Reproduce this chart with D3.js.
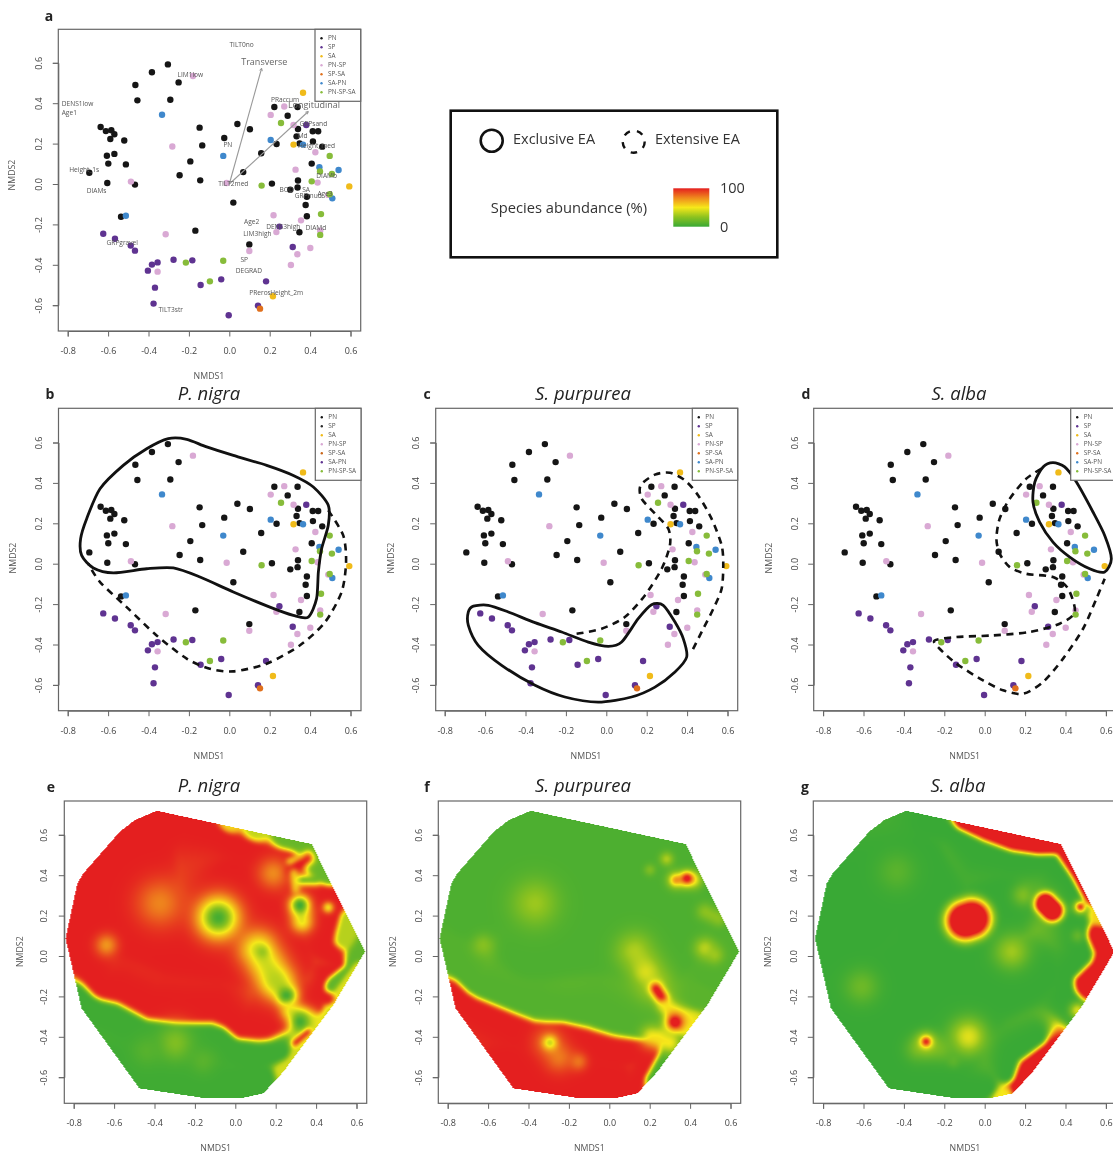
<!DOCTYPE html>
<html><head><meta charset="utf-8">
<script src="https://cdn.jsdelivr.net/npm/d3@7"></script>
<style>html,body{margin:0;padding:0;background:#fff;overflow:hidden}svg{display:block;filter:blur(0.45px)}text{font-family:"Open Sans",sans-serif}</style>
</head><body><svg id="c" width="1113" height="1156"></svg>
<script>
// ---- sample points (NMDS1, NMDS2) ----
const groupNames = ["PN","SP","SA","PN-SP","SP-SA","SA-PN","PN-SP-SA"];
const groupColors = ["#151515","#5f3391","#f0bb1a","#d9a9d4","#e0701c","#3f88cc","#87bc3a"];
const PN = [[-.304,.592],[-.383,.553],[-.251,.503],[-.465,.49],[-.455,.414],[-.292,.417],[-.637,.282],[-.611,.262],[-.584,.266],[-.569,.246],[-.589,.223],[-.52,.215],[-.606,.14],[-.569,.149],[-.599,.101],[-.512,.097],[-.693,.056],[-.604,.005],[-.467,-.003],[-.536,-.162],[-.168,-.231],[-.147,.279],[-.134,.191],[-.193,.112],[-.246,.043],[-.144,.018],[-.025,.228],[.04,.297],[.102,.271],[.158,.152],[.069,.059],[.02,-.092],[.099,-.299],[.211,.002],[.234,.198],[.223,.381],[.289,.338],[.338,.381],[.34,.272],[.333,.236],[.348,.201],[.413,.261],[.44,.261],[.414,.211],[.46,.185],[.408,.101],[.34,.017],[.338,-.017],[.302,-.028],[.384,-.063],[.378,-.104],[.384,-.16],[.347,-.239]];
const SP = [[-.624,-.246],[-.566,-.271],[-.488,-.305],[-.467,-.33],[-.355,-.388],[-.383,-.399],[-.403,-.429],[-.368,-.513],[-.375,-.592],[-.276,-.375],[-.183,-.378],[-.142,-.5],[-.04,-.472],[-.003,-.65],[.142,-.602],[.182,-.482],[.248,-.211],[.314,-.312],[.381,.292]];
const SA = [[.365,.452],[.318,.195],[.594,-.012],[.216,-.556]];
const PN_SP = [[.272,.384],[.205,.342],[.318,.292],[-.282,.186],[-.18,.535],[-.487,.012],[.328,.071],[.426,.157],[.437,.007],[-.013,.005],[-.315,-.249],[-.355,-.434],[.219,-.155],[.233,-.238],[.355,-.18],[.099,-.332],[.401,-.317],[.337,-.348],[.305,-.401],[.49,-.054],[.45,-.231]];
const SP_SA = [[.152,-.617]];
const SA_PN = [[-.333,.343],[-.03,.139],[.205,.218],[.365,.195],[.446,.083],[.541,.069],[.51,-.071],[-.512,-.157]];
const PN_SP_SA = [[.256,.302],[.497,.139],[.508,.05],[.449,.062],[.408,.013],[.16,-.008],[.497,-.051],[.454,-.149],[.45,-.252],[-.03,-.38],[-.215,-.389],[-.096,-.482]];
const groups = [PN,SP,SA,PN_SP,SP_SA,SA_PN,PN_SP_SA];

// ---- labels of the biplot (panel a) ----
const biplotLabels = ["TILT0no","LIM1low","PRaccum","DENS1low","Age1","GRPsand","PN","Height_1s","TILT2med","DIAMs","DIAMb","BOD","SA","Age3","GRPmud","Height_med","Md","Age2","LIM3high","DENS3high","DIAMd","GRPgravel","SP","DEGRAD","PReros","Height_2m","TILT3str"];
const biplotLabelX = [.061,-.193,.276,-.751,-.792,.416,-.007,-.718,.02,-.657,.482,.284,.38,.474,.391,.432,.363,.111,.139,.267,.429,-.53,.074,.097,.152,.284,-.29];
const biplotLabelY = [.688,.538,.417,.394,.351,.297,.193,.069,-.002,-.038,.036,-.03,-.033,-.05,-.059,.185,.234,-.19,-.248,-.213,-.221,-.295,-.375,-.431,-.541,-.541,-.625];
const vectorNames = ["Transverse","Longitudinal"];
const vectorEnds = [[.16,.573],[.391,.359]];
const vectorLabelPos = [[.173,.601],[.419,.388]];

// ---- EA outlines drawn on panels b, c, d ----
const exclusiveB = [[-.302,.619],[-.211,.616],[-.112,.578],[.02,.536],[.185,.487],[.317,.437],[.416,.38],[.49,.289],[.49,.19],[.457,.074],[.441,-.041],[.432,-.173],[.391,-.264],[.317,-.256],[.201,-.215],[.02,-.14],[-.145,-.066],[-.277,-.021],[-.409,-.025],[-.574,-.045],[-.673,-.021],[-.731,.041],[-.736,.124],[-.706,.223],[-.64,.371],[-.525,.487],[-.409,.569]];
const extensiveB = [[.49,.264],[.564,.14],[.578,.008],[.556,-.14],[.474,-.289],[.35,-.404],[.185,-.495],[.02,-.533],[-.096,-.52],[-.211,-.47],[-.36,-.355],[-.508,-.215],[-.64,-.091],[-.698,0]];
const exclusiveC = [[-.658,-.21],[-.584,-.206],[-.485,-.239],[-.353,-.292],[-.221,-.338],[-.089,-.388],[.01,-.409],[.076,-.388],[.158,-.272],[.224,-.203],[.282,-.206],[.34,-.289],[.381,-.371],[.398,-.462],[.34,-.536],[.241,-.611],[.125,-.66],[-.04,-.685],[-.205,-.66],[-.353,-.602],[-.518,-.503],[-.634,-.404],[-.683,-.305],[-.683,-.239]];
const extensiveC = [[-.147,-.347],[-.023,-.322],[.092,-.264],[.191,-.157],[.274,-.025],[.315,.091],[.307,.173],[.241,.248],[.175,.322],[.17,.388],[.241,.441],[.315,.45],[.389,.413],[.455,.338],[.521,.223],[.571,.091],[.579,-.008],[.571,-.124],[.53,-.223],[.48,-.322],[.422,-.437]];
const exclusiveD = [[.338,.5],[.396,.479],[.454,.404],[.536,.256],[.594,.14],[.627,.025],[.594,-.041],[.52,-.025],[.421,.033],[.338,.107],[.272,.206],[.239,.305],[.248,.404],[.289,.479]];
const extensiveD = [[.281,.47],[.206,.421],[.124,.322],[.074,.223],[.058,.124],[.074,.05],[.124,-.017],[.206,-.05],[.338,-.066],[.413,-.124],[.446,-.239],[.371,-.297],[.223,-.338],[.041,-.355],[-.14,-.363],[-.248,-.38],[-.223,-.421],[-.14,-.495],[-.008,-.578],[.091,-.627],[.19,-.644],[.289,-.586],[.388,-.47],[.487,-.322],[.553,-.173],[.594,-.074]];

const hull = [[-.389,.719],[-.497,.673],[-.571,.616],[-.752,.409],[-.782,.36],[-.84,.087],[-.761,-.259],[-.475,-.655],[-.142,-.705],[.023,-.705],[.139,-.68],[.238,-.573],[.485,-.243],[.642,.021],[.378,.554]];
// contour-like traces: abundance value, then x,y pairs
const tracesE = [
 [100,-.827,.054,-.67,-.16,-.571,-.177,-.422,-.251,-.274,-.267,-.092,-.267,.023,-.358,.139,-.35,.254,-.243],
 [2,-.782,-.193,-.686,-.267,-.596,-.292,-.455,-.375,-.307,-.399,-.076,-.399,-.01,-.457,.106,-.49,.238,-.482],
 [2,-.6,-.55,-.3,-.62,0,-.65,.15,-.6],
 [100,-.6,.4,-.389,.68,-.241,.695,-.12,.62,-.01,.56,.155,.49,.254,.47],
 [100,-.7,.2,-.3,.05,0,0,0,.4,.2,.1,.25,.05,.3,-.05],
 [55,-.03,.65],[38,.1,.622],
 [14,.25,.585,.378,.55,.46,.40],
 [100,.345,.327,.485,.294,.502,.236,.46,.129,.444,.054,.526,-.045,.444,-.094,.411,-.177,.469,-.226],
 [100,.35,-.2,.41,-.26],
 [35,.551,.186,.535,.087],
 [12,.634,.03,.469,-.144],
 [42,.238,-.573,.36,-.41,.485,-.243],
 [45,.6,-.05,.52,-.19]
];
// soft spots: x1,y1,x2,y2,radius,value
const spotsE = [
 [-.373,.261,-.373,.261,.11,76],[-.637,.054,-.637,.054,.05,70],[-.084,.19,-.084,.19,.095,2],
 [.114,.03,.2,-.12,.09,40],[.2,-.12,.254,-.19,.05,35],[.135,.02,.135,.02,.03,25],[.254,-.2,.254,-.2,.038,-5],
 [.188,.409,.188,.409,.07,74],[.32,.25,.33,.17,.05,45],[.32,.252,.32,.252,.036,-5],
 [.27,.467,.361,.508,.015,45],[.279,.418,.361,.483,.028,104],[.29,.41,.3,.33,.02,55],[.33,.376,.4,.376,.024,12],
 [.27,-.27,.41,-.33,.045,50],[.32,-.325,.32,-.325,.05,0],[.295,-.432,.361,-.375,.015,110],[.46,.24,.46,.24,.022,35],
 [-.298,-.43,-.298,-.43,.08,22],[-.16,-.52,-.16,-.52,.06,10],[-.44,-.47,-.44,-.47,.07,9]
];
const tracesF = [
 [100,-.777,-.168,-.682,-.251,-.5,-.333,-.384,-.391,-.236,-.383,-.104,-.432,.028,-.465,.201,-.482,.168,-.573,.111,-.68],
 [8,-.81,.005,-.673,-.144,-.45,-.226,-.302,-.267,-.087,-.284,.028,-.325,.16,-.35],
 [100,-.5,-.55,-.2,-.62,.05,-.62],
 [6,-.7,.2,-.3,.6,.2,.5,.5,.2,.3,0,0,.1,-.4,0],[6,-.5,.3,-.1,.3],[6,.2,.2,.4,.3],
 [6,.21,-.606,.325,-.457],[45,.41,-.34],[8,.5,-.1,.62,.02],[10,.45,-.2]
];
const spotsF = [
 [-.368,.261,-.368,.261,.11,29],[-.624,.054,-.624,.054,.05,24],[.127,.021,.22,-.13,.09,34],[.18,-.08,.18,-.08,.045,44],
 [.24,-.18,.33,-.3,.03,50],[.23,-.16,.26,-.205,.028,112],[.21,-.4,.3,-.43,.05,52],[.27,-.25,.41,-.33,.03,50],[.325,-.328,.325,-.328,.042,118],
 [.33,.376,.416,.376,.04,50],[.33,.376,.33,.376,.022,82],[.385,.385,.385,.385,.028,120],[.284,.48,.284,.48,.03,38],[.201,.426,.201,.426,.025,25],
 [.474,.219,.54,.186,.04,26],[.474,.038,.474,.038,.05,38],[.523,.005,.523,.005,.04,30],
 [-.3,-.43,-.25,-.5,.07,78],[-.294,-.429,-.294,-.429,.03,32],[-.153,-.523,-.153,-.523,.04,78]
];
const tracesG = [
 [105,-.114,.657,.002,.624,.134,.566,.266,.533,.381,.541,.439,.434,.513,.285],
 [0,-.262,.665,-.163,.616,-.031,.525,.134,.475,.332,.467,.414,.368,.48,.252],
 [105,.546,.104,.604,.021,.563,-.061,.48,-.135,.505,-.168],
 [0,.464,.17,.472,.087,.488,-.003,.406,-.094,.406,-.193,.464,-.26],
 [55,.563,.203],
 [105,.332,-.449,.2,-.564,.142,-.672],
 [0,.266,-.408,.134,-.49,.117,-.589],
 [50,.075,-.695,.125,-.68],[0,-.15,-.69,.02,-.66],
 [0,-.7,.2,-.3,.5,-.2,0,.1,.3,-.5,-.3,-.2,-.6,0,-.2,.3,-.1]
];
const spotsG = [
 [-.095,.175,-.065,.185,.1,135,4],[.3,.26,.335,.225,.056,135,4],[.474,.243,.474,.243,.03,55],[.474,.243,.474,.243,.017,130],
 [.191,.302,.191,.302,.05,22],[.134,.021,.134,.021,.08,30],[-.609,-.152,-.609,-.152,.08,16],[-.436,.417,-.436,.417,.09,10],
 [-.081,-.4,-.081,-.4,.085,46],[-.33,-.46,-.22,-.46,.06,18],[-.29,-.424,-.29,-.424,.045,50],[-.29,-.424,-.29,-.424,.02,125],[-.155,-.52,-.155,-.52,.03,12],
 [.46,-.27,.46,-.27,.035,50],[.46,.1,.46,.1,.03,15]
];

const scatterTicks = [-.8,-.6,-.4,-.2,0,.2,.4,.6];
const yTicks = [-.6,-.4,-.2,0,.2,.4,.6];
const legendStops = [0,25,50,75,100];
const legendColors = ["#39a935","#8cc21f","#f6e81a","#ef8a1d","#e41f1f"];

const K = 202;
const svg = d3.select("#c");
const color = d3.scaleLinear().domain(legendStops).range(legendColors).clamp(true);
const GRAY = "#555";

function frame(p){
  const x = d3.scaleLinear().domain([-.8,.6]).range([p.zx-.8*K,p.zx+.6*K]);
  const y = d3.scaleLinear().domain([-.6,.6]).range([p.zy+.6*K,p.zy-.6*K]);
  return {x,y,g:svg.append("g")};
}
function axes(p,f){
  const [l,r,t,b]=p.box, g=f.g;
  g.append("rect").attr("x",l).attr("y",t).attr("width",r-l).attr("height",b-t).attr("fill","none").attr("stroke","#666").attr("stroke-width",1.2);
  const xa=g.append("g").attr("transform",`translate(0,${b})`).call(d3.axisBottom(f.x).tickValues(scatterTicks).tickFormat(d3.format(".1f")).tickSize(5.5).tickPadding(11));
  const ya=g.append("g").attr("transform",`translate(${l},0)`).call(d3.axisLeft(f.y).tickValues(yTicks).tickFormat(d3.format(".1f")).tickSize(5.5));
  xa.select(".domain").attr("stroke","#666"); ya.select(".domain").attr("stroke","#666");
  xa.selectAll("line").attr("stroke","#666"); ya.selectAll("line").attr("stroke","#666");
  xa.selectAll("text").attr("fill","#444").attr("font-size",9).attr("font-family",'"Open Sans"').text(d=>d3.format(".1f")(d).replace("−","-"));
  ya.selectAll("text").attr("fill","#444").attr("font-size",9).attr("font-family",'"Open Sans"').text(d=>d3.format(".1f")(d).replace("−","-"))
    .attr("text-anchor","middle").attr("x",0).attr("y",0).attr("dy",null).attr("dominant-baseline","middle")
    .attr("transform",`translate(${p.ytx-l},0) rotate(-90)`);
  g.append("text").attr("x",p.nx).attr("y",p.ny).attr("text-anchor","middle").attr("dominant-baseline","middle").attr("font-size",8.8).attr("fill",GRAY).text("NMDS1");
  g.append("text").attr("transform",`translate(${p.my[0]},${p.my[1]}) rotate(-90)`).attr("text-anchor","middle").attr("dominant-baseline","middle").attr("font-size",8.8).attr("fill",GRAY).text("NMDS2");
  g.append("text").attr("x",p.lx).attr("y",p.ly).attr("text-anchor","middle").attr("dominant-baseline","middle").attr("font-size",14).attr("font-weight",700).attr("fill","#222").text(p.letter);
  if(p.title) g.append("text").attr("x",p.tx).attr("y",p.ty).attr("text-anchor","middle").attr("dominant-baseline","middle").attr("font-size",18.5).attr("font-style","italic").attr("fill","#222").text(p.title);
}
function points(f){
  groups.forEach((pts,i)=>{
    f.g.append("g").selectAll("circle").data(pts).join("circle").attr("cx",d=>f.x(d[0])).attr("cy",d=>f.y(d[1])).attr("r",3.2).attr("fill",groupColors[i]);
  });
}
function legend(p,f,cols){
  const t=p.box[2], ll=p.lgL;
  f.g.append("rect").attr("x",ll).attr("y",t).attr("width",p.lgW).attr("height",72).attr("fill","#fff").attr("stroke","#666").attr("stroke-width",1.2);
  groupNames.forEach((n,i)=>{
    const yy=t+9+9*i;
    f.g.append("circle").attr("cx",ll+6.5).attr("cy",yy).attr("r",1.2).attr("fill",cols[i]);
    f.g.append("text").attr("x",ll+13).attr("y",yy).attr("dominant-baseline","middle").attr("font-size",6.4).attr("fill",GRAY).text(n);
  });
}
function outline(f,pts,closed,dashed){
  const line=d3.line().x(d=>f.x(d[0])).y(d=>f.y(d[1])).curve(closed?d3.curveCardinalClosed.tension(0.2):d3.curveCardinal.tension(0.2));
  const pth=f.g.append("path").attr("d",line(pts)).attr("fill","none").attr("stroke","#111").attr("stroke-width",2.8);
  if(dashed) pth.attr("stroke-dasharray","7 5.5").attr("stroke-width",2.6);
}
function segDist2(px,py,x1,y1,x2,y2){
  const dx=x2-x1,dy=y2-y1,l=dx*dx+dy*dy;
  let t=l?((px-x1)*dx+(py-y1)*dy)/l:0; t=Math.max(0,Math.min(1,t));
  const ax=x1+t*dx-px, ay=y1+t*dy-py; return ax*ax+ay*ay;
}
// small separable box smoothing of the value grid
function smooth(a,w,h,rad,passes){
  let src=a, dst=new Float32Array(a.length);
  for(let n=0;n<passes;n++){
    for(let j=0;j<h;j++)for(let i=0;i<w;i++){let s=0,c=0;for(let k=-rad;k<=rad;k++){const q=i+k;if(q>=0&&q<w){s+=src[j*w+q];c++;}}dst[j*w+i]=s/c;}
    [src,dst]=[dst,src];
    for(let j=0;j<h;j++)for(let i=0;i<w;i++){let s=0,c=0;for(let k=-rad;k<=rad;k++){const q=j+k;if(q>=0&&q<h){s+=src[q*w+i];c++;}}dst[j*w+i]=s/c;}
    [src,dst]=[dst,src];
  }
  return src;
}
function surface(p,f,traces,spots){
  const [l,r,t,b]=p.box, w=Math.round(r-l), h=Math.round(b-t);
  const cv=document.createElement("canvas"); cv.width=w; cv.height=h;
  const ctx=cv.getContext("2d"), im=ctx.createImageData(w,h);
  let vals=new Float32Array(w*h);
  for(let j=0;j<h;j++){ for(let i=0;i<w;i++){
    const X=f.x.invert(l+i+.5), Y=f.y.invert(t+j+.5);
    let ws=0,vs=0;
    for(const tr of traces){
      let d2=1e9;
      if(tr.length===3) d2=(X-tr[1])**2+(Y-tr[2])**2;
      for(let k=1;k+3<tr.length;k+=2){const q=segDist2(X,Y,tr[k],tr[k+1],tr[k+2],tr[k+3]); if(q<d2)d2=q;}
      const wt=1/Math.pow(d2+2e-4,3); ws+=wt; vs+=wt*tr[0];
    }
    let v=vs/ws;
    for(const s of spots){
      const d=Math.sqrt(segDist2(X,Y,s[0],s[1],s[2],s[3]))/s[4];
      const e=Math.exp(-Math.pow(d,s[6]||2));
      v=v+(s[5]-v)*e;
    }
    vals[j*w+i]=v;
  }}
  vals=smooth(vals,w,h,2,2);
  for(let j=0;j<h;j++){ for(let i=0;i<w;i++){
    if(!d3.polygonContains(hull,[f.x.invert(l+i+.5),f.y.invert(t+j+.5)])) continue;
    const c=d3.rgb(color(vals[j*w+i])), o=(j*w+i)*4;
    im.data[o]=c.r;im.data[o+1]=c.g;im.data[o+2]=c.b;im.data[o+3]=255;
  }}
  ctx.putImageData(im,0,0);
  f.g.append("image").attr("x",l).attr("y",t).attr("width",w).attr("height",h).attr("href",cv.toDataURL());
}

// panel a
const A={zx:229.3,zy:184,box:[58.3,360.7,29.3,331],ytx:39.5,nx:209,ny:377,my:[13,175],lx:49,ly:17,letter:"a",lgL:315,lgW:45.7};
let f=frame(A); points(f);
vectorEnds.forEach((e,i)=>{
  const x0=f.x(0),y0=f.y(0),x1=f.x(e[0]),y1=f.y(e[1]),ang=Math.atan2(y1-y0,x1-x0);
  f.g.append("path").attr("d",d3.line()([[x0,y0],[x1,y1]])).attr("stroke","#999").attr("stroke-width",1.1).attr("fill","none");
  f.g.append("path").attr("d",d3.line()([[x1-3*Math.cos(ang-.5),y1-3*Math.sin(ang-.5)],[x1,y1],[x1-3*Math.cos(ang+.5),y1-3*Math.sin(ang+.5)]])).attr("stroke","#999").attr("stroke-width",1).attr("fill","none");
  f.g.append("text").attr("x",f.x(vectorLabelPos[i][0])).attr("y",f.y(vectorLabelPos[i][1])).attr("text-anchor","middle").attr("dominant-baseline","middle").attr("font-size",9).attr("fill","#666").text(vectorNames[i]);
});
biplotLabels.forEach((n,i)=>f.g.append("text").attr("x",f.x(biplotLabelX[i])).attr("y",f.y(biplotLabelY[i])).attr("text-anchor","middle").attr("dominant-baseline","middle").attr("font-size",6.6).attr("fill","#555").text(n));
axes(A,f); legend(A,f,groupColors);

// panels b,c,d
const bCols=["#151515","#2a2a2a","#f0bb1a","#d9a9d4","#c9661a","#5f3391","#87bc3a"];
const B={zx:229.3,zy:563.7,box:[58.5,361,408.3,710.7],ytx:40,nx:209,ny:757,my:[13.3,558],lx:50,ly:395,letter:"b",title:"P. nigra",tx:209,ty:395.5,lgL:315.3,lgW:45.7};
f=frame(B); points(f); outline(f,exclusiveB,true,false); outline(f,extensiveB,false,true); axes(B,f); legend(B,f,bCols);
const C={zx:606.3,zy:563.7,box:[435.7,737.7,408.3,710.7],ytx:416.7,nx:586,ny:757,my:[391.7,558],lx:427,ly:395,letter:"c",title:"S. purpurea",tx:583,ty:395.5,lgL:692.3,lgW:45.4};
f=frame(C); points(f); outline(f,exclusiveC,true,false); outline(f,extensiveC,false,true); axes(C,f); legend(C,f,groupColors);
const D={zx:984.7,zy:563.7,box:[813.7,1116,408.3,710.7],ytx:795.3,nx:964.7,ny:757,my:[769.7,558],lx:806,ly:395,letter:"d",title:"S. alba",tx:959,ty:395.5,lgL:1070.7,lgW:45.4};
f=frame(D); points(f); outline(f,exclusiveD,true,false); outline(f,extensiveD,false,true); axes(D,f); legend(D,f,groupColors);

// panels e,f,g
const E={zx:235.3,zy:956,box:[64.3,366.7,801,1103.3],ytx:45,nx:215.7,ny:1149,my:[20.7,951.7],lx:51,ly:788,letter:"e",title:"P. nigra",tx:209,ty:787.5};
f=frame(E); surface(E,f,tracesE,spotsE); axes(E,f);
const F={zx:609.3,zy:956,box:[438.3,740.7,801,1103.3],ytx:420,nx:589.3,ny:1149,my:[394,951.7],lx:427,ly:788,letter:"f",title:"S. purpurea",tx:583,ty:787.5};
f=frame(F); surface(F,f,tracesF,spotsF); axes(F,f);
const G={zx:984.7,zy:956,box:[813.3,1116,801,1103.3],ytx:795,nx:965,ny:1149,my:[769,951.7],lx:805,ly:788,letter:"g",title:"S. alba",tx:958,ty:787.5};
f=frame(G); surface(G,f,tracesG,spotsG); axes(G,f);

// key
const key=svg.append("g");
key.append("rect").attr("x",450.7).attr("y",110.7).attr("width",326.6).attr("height",146.6).attr("fill","#fff").attr("stroke","#111").attr("stroke-width",2.6);
key.append("circle").attr("cx",491.7).attr("cy",140.7).attr("r",11).attr("fill","none").attr("stroke","#111").attr("stroke-width",2.6);
key.append("circle").attr("cx",633.7).attr("cy",141.7).attr("r",11).attr("fill","none").attr("stroke","#111").attr("stroke-width",2.4).attr("stroke-dasharray","6.5 7.2");
const keyText=(t,x,y,s)=>key.append("text").attr("x",x).attr("y",y).attr("dominant-baseline","middle").attr("font-size",s||14).attr("fill","#333").text(t);
keyText("Exclusive EA",513,140,14.5); keyText("Extensive EA",655,140,14.5); keyText("Species abundance (%)",490.7,209,14.7); keyText("100",720,189.5,14.5); keyText("0",720,228,14.5);
const defs=svg.append("defs"), lg=defs.append("linearGradient").attr("id","abund").attr("x1",0).attr("x2",0).attr("y1",1).attr("y2",0);
legendStops.forEach((s,i)=>lg.append("stop").attr("offset",s+"%").attr("stop-color",legendColors[i]));
key.append("rect").attr("x",673.3).attr("y",188.3).attr("width",36).attr("height",38.4).attr("fill","url(#abund)");
</script></body></html>
